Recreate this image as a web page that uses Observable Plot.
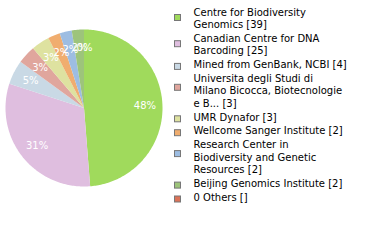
<!DOCTYPE html>
<html>
<head>
<meta charset="utf-8">
<script src="https://cdn.jsdelivr.net/npm/d3@7"></script>
<script src="https://cdn.jsdelivr.net/npm/@observablehq/plot@0.6"></script>
<style>
  html, body { margin: 0; padding: 0; background: #fff; }
</style>
</head>
<body>
<div id="chart"></div>
<script>
// ---- data ----
const legendLabels = [
  "Centre for Biodiversity\nGenomics [39]",
  "Canadian Centre for DNA\nBarcoding [25]",
  "Mined from GenBank, NCBI [4]",
  "Universita degli Studi di\nMilano Bicocca, Biotecnologie\ne B... [3]",
  "UMR Dynafor [3]",
  "Wellcome Sanger Institute [2]",
  "Research Center in\nBiodiversity and Genetic\nResources [2]",
  "Beijing Genomics Institute [2]",
  "0 Others []"
];
const counts = [39, 25, 4, 3, 3, 2, 2, 2, 0];
const colors = ["#a0da5c", "#dfbedf", "#c9d9e5", "#e0a69d", "#dee2a0", "#f0ad6f", "#9dbde2", "#9dc47b", "#db7358"];

// ---- layout ----
const W = 380, H = 240;
const cx = 84, cy = 108, R = 78.5;
const legendSquareX = 174.5, legendSquareSize = 6, legendTextX = 193;
const lineH = 12.3, entryGap = 1.6, legendTop = 12;

const total = d3.sum(counts);
const pieRows = [];
const labelRows = [];
let acc = 0;
counts.forEach((c, i) => {
  const a0 = acc / total * 2 * Math.PI;
  acc += c;
  const a1 = acc / total * 2 * Math.PI;
  if (a1 > a0) {
    const n = Math.max(2, Math.ceil((a1 - a0) / (Math.PI / 180)));
    for (let k = 0; k <= n; k++) {
      const t = a0 + (a1 - a0) * k / n;
      pieRows.push({slice: i, x1: cx, y1: cy, x2: cx + R * Math.sin(t), y2: cy - R * Math.cos(t)});
    }
  }
  const am = (a0 + a1) / 2, rl = R * 0.77;
  labelRows.push({x: cx + rl * Math.sin(am), y: cy - rl * Math.cos(am), text: Math.floor(c / total * 100) + "%"});
});

const legendLines = [];
const legendBoxes = [];
let yy = legendTop;
legendLabels.forEach((lab, i) => {
  const lines = lab.split("\n");
  lines.forEach((ln, j) => legendLines.push({x: legendTextX, y: yy + j * lineH, text: ln}));
  const sy = yy + 2 + (lines.length - 1) * 3.5;
  legendBoxes.push({i, x1: legendSquareX, x2: legendSquareX + legendSquareSize, y1: sy - legendSquareSize / 2, y2: sy + legendSquareSize / 2});
  yy += lines.length * lineH + entryGap;
});

const plot = Plot.plot({
  width: W, height: H,
  margin: 0,
  x: {domain: [0, W], range: [0, W], axis: null},
  y: {domain: [0, H], range: [0, H], axis: null},
  style: {fontFamily: "DejaVu Sans", background: "#fff"},
  marks: [
    Plot.area(pieRows, {x1: "x1", y1: "y1", x2: "x2", y2: "y2", z: "slice", fill: d => colors[d.slice], curve: "linear"}),
    Plot.text(labelRows, {x: "x", y: "y", text: "text", fill: "white", fontSize: 10, textAnchor: "middle"}),
    Plot.rect(legendBoxes, {x1: "x1", x2: "x2", y1: "y1", y2: "y2", fill: d => colors[d.i], stroke: "#777", strokeWidth: 1, inset: 0}),
    Plot.text(legendLines, {x: "x", y: "y", text: "text", fill: "#000", fontSize: 10, textAnchor: "start"})
  ]
});
document.getElementById("chart").appendChild(plot);
</script>
</body>
</html>
